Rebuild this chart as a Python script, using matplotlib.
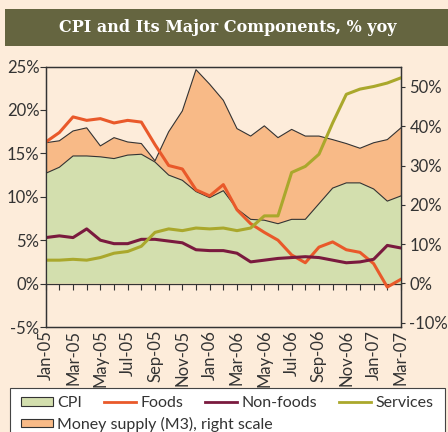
import matplotlib
matplotlib.use("Agg")
import matplotlib.pyplot as plt
from matplotlib.patches import Rectangle, Patch
from matplotlib.lines import Line2D

plt.rcParams['font.family'] = ['Lato', 'DejaVu Sans']

# monthly data, Jan-05 .. Mar-07
months = ["Jan-05", "Feb-05", "Mar-05", "Apr-05", "May-05", "Jun-05", "Jul-05", "Aug-05", "Sep-05",
          "Oct-05", "Nov-05", "Dec-05", "Jan-06", "Feb-06", "Mar-06", "Apr-06", "May-06", "Jun-06",
          "Jul-06", "Aug-06", "Sep-06", "Oct-06", "Nov-06", "Dec-06", "Jan-07", "Feb-07", "Mar-07"]
cpi = [12.7, 13.4, 14.7, 14.7, 14.6, 14.4, 14.8, 14.9, 14.0, 12.5, 11.9, 10.6, 9.9, 10.7,
       8.6, 7.4, 7.3, 6.9, 7.4, 7.4, 9.2, 11.0, 11.6, 11.6, 10.9, 9.5, 10.1]
foods = [16.3, 17.4, 19.2, 18.8, 19.0, 18.5, 18.8, 18.6, 16.0, 13.6, 13.2, 10.8, 10.1, 11.4,
         8.5, 6.9, 5.9, 5.0, 3.3, 2.4, 4.2, 4.8, 3.9, 3.6, 2.3, -0.4, 0.5]
nonfoods = [5.3, 5.5, 5.3, 6.3, 5.0, 4.6, 4.6, 5.1, 5.1, 4.9, 4.7, 3.9, 3.8, 3.8,
            3.5, 2.5, 2.7, 2.9, 3.0, 3.1, 3.0, 2.7, 2.4, 2.5, 2.8, 4.4, 4.1]
services = [2.7, 2.7, 2.8, 2.7, 3.0, 3.5, 3.7, 4.3, 5.9, 6.3, 6.1, 6.4, 6.3, 6.4,
            6.1, 6.4, 7.8, 7.8, 12.8, 13.5, 14.9, 18.5, 21.8, 22.4, 22.7, 23.1, 23.7]
m3 = [35.8, 36.3, 38.8, 39.6, 35.0, 37.1, 36.0, 35.6, 31.2, 38.6, 43.9, 54.4, 50.7, 46.6,
      39.4, 37.5, 40.1, 37.1, 39.2, 37.5, 37.5, 36.6, 35.6, 34.4, 35.8, 36.6, 39.6]

BG = "#fdecda"
GREEN = "#d3dfae"
ORANGE = "#f8ba87"
FOODS_C = "#e9592a"
NONFOODS_C = "#7a1a3e"
SERVICES_C = "#aaa82c"
EDGE = "#333333"

x = list(range(len(months)))

fig = plt.figure(figsize=(4.48, 4.32), dpi=100, facecolor=BG)
ax = fig.add_axes([0.102, 0.243, 0.793, 0.603])
ax2 = ax.twinx()
ax.set_zorder(ax2.get_zorder() + 1)
ax.patch.set_visible(False)
ax2.set_facecolor(BG)

# money supply on right scale
ax2.fill_between(x, 0, m3, facecolor=ORANGE, edgecolor="none")
ax2.plot(x, m3, color=EDGE, lw=0.8)
ax2.set_ylim(-11.1, 55.2)
ax2.set_yticks(range(-10, 51, 10), [f"{v}%" for v in range(-10, 51, 10)])
ax2.tick_params(axis="y", direction="out", length=3, width=0.8, pad=3, labelsize=12, colors="#333333")

# CPI area and components on left scale
ax.fill_between(x, 0, cpi, facecolor=GREEN, edgecolor="none")
ax.plot(x, cpi, color=EDGE, lw=0.8)
ax.plot(x, foods, color=FOODS_C, lw=2.2)
ax.plot(x, nonfoods, color=NONFOODS_C, lw=2.2)
ax.plot(x, services, color=SERVICES_C, lw=2.2)

ax.set_xlim(0, len(months) - 1)
ax.set_ylim(-5, 25)
ax.set_yticks(range(-5, 26, 5), [f"{v}%" for v in range(-5, 26, 5)])
ax.tick_params(axis="y", direction="out", length=4, width=0.8, pad=0.5, labelsize=12, colors="#333333")
ax.set_xticks(x[::2], months[::2], rotation=90)
ax.tick_params(axis="x", length=0, pad=2, labelsize=12, colors="#333333")

for a in (ax, ax2):
    for s in a.spines.values():
        s.set_color(EDGE)
        s.set_linewidth(0.9)

# zero line with monthly ticks
sec = ax.secondary_xaxis(5 / 30)
sec.set_xticks(x)
sec.tick_params(axis="x", direction="out", length=4, width=0.8, labelbottom=False, color=EDGE)
sec.spines["bottom"].set_color(EDGE)
sec.spines["bottom"].set_linewidth(0.9)

# title band
fig.patches.append(Rectangle((5 / 448, 1 - 46 / 432), 443 / 448, 37 / 432,
                             transform=fig.transFigure, facecolor="#656540", edgecolor="none"))
fig.text(0.509, 1 - 28 / 432, "CPI and Its Major Components, % yoy", color="white",
         fontsize=11.5, fontweight="bold", family="DejaVu Serif", ha="center", va="center")

# legend box
fig.patches.append(Rectangle((10 / 448, -0.02), 435 / 448, 0.02 + 44 / 432,
                             transform=fig.transFigure, facecolor="white", edgecolor="#444444", lw=0.8))
row1 = [Patch(facecolor=GREEN, edgecolor=EDGE, lw=0.8, label="CPI"),
        Line2D([], [], color=FOODS_C, lw=2, label="Foods"),
        Line2D([], [], color=NONFOODS_C, lw=2, label="Non-foods"),
        Line2D([], [], color=SERVICES_C, lw=2, label="Services")]
row2 = [Patch(facecolor=ORANGE, edgecolor=EDGE, lw=0.8, label="Money supply (M3), right scale")]
common = dict(frameon=False, fontsize=11.5, handlelength=2.0, handleheight=0.45,
              handletextpad=0.25, borderpad=0, borderaxespad=0, labelcolor="#333333")
fig.legend(handles=row1, ncol=4, loc="center left", bbox_to_anchor=(21 / 448, 1 - 403 / 432),
           columnspacing=1.4, **common)
fig.legend(handles=row2, loc="center left", bbox_to_anchor=(21 / 448, 1 - 424 / 432), **common)

fig.savefig("out.png", dpi=100, facecolor=BG)
